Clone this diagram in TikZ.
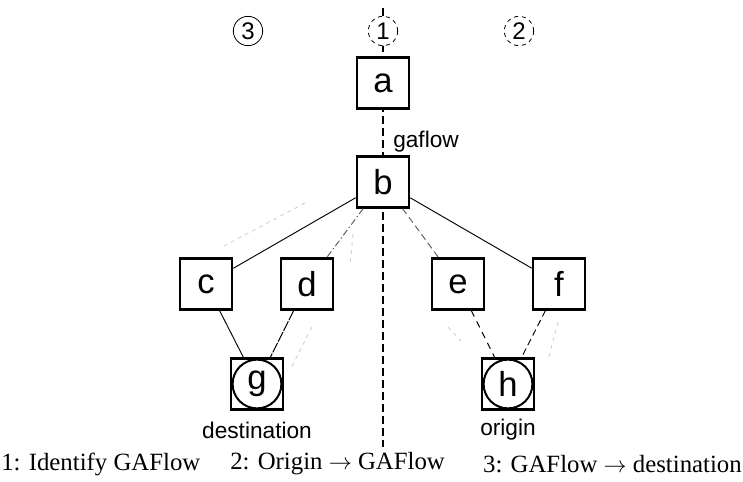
\documentclass[tikz,border=0pt]{standalone}
\usepackage{fontspec}
\setmainfont{Liberation Serif}
\newfontfamily\arialfont{Liberation Sans}
\tikzset{
  vbox/.style={draw, line width=1.9pt, fill=white, minimum width=39pt, minimum height=38pt,
    inner sep=0pt, font=\arialfont\fontsize{26}{28}\selectfont},
  endbox/.style={vbox, path picture={\draw[line width=1.5pt] (path picture bounding box.center) circle[radius=18.3pt];}},
  stepmark/.style={draw, circle, line width=0.6pt, fill=white, minimum size=22pt, inner sep=0pt,
    font=\arialfont\fontsize{18}{20}\selectfont},
  annot/.style={font=\arialfont\fontsize{17}{19}\selectfont, inner sep=0pt},
  thinedge/.style={line width=0.7pt},
  faint/.style={gray!40, line width=0.6pt, dash pattern=on 3pt off 3pt},
  divider/.style={line width=2.2pt, dash pattern=on 6pt off 3pt},
  caption/.style={font=\fontsize{18.6}{22}\selectfont, inner sep=0pt}
}
\begin{document}
\begin{tikzpicture}[x=0.75pt, y=-0.75pt]
\useasboundingbox (0,0) rectangle (743,482);

% dividing line of the tree
\coordinate (top) at (383,8);
\coordinate (bot) at (383,447);
\draw[divider] (top) -- (bot);

% step markers
\node[stepmark] (s3) at (248,31) {3};
\node[stepmark, dashed] (s1) at (383,31) {1};
\node[stepmark, dashed] (s2) at (519,31) {2};

% tree nodes
\node[vbox] (a) at (383,83) {a};
\node[vbox] (b) at (383,182) {b};
\node[vbox] (c) at (206,284) {c};
\node[vbox] (d) at (307,284) {d};
\node[vbox] (e) at (458,284) {e};
\node[vbox] (f) at (559,284) {f};
\node[endbox] (g) at (257,384) {g};
\node[endbox] (h) at (508,384) {h};

% edges
\draw[thinedge] (b) -- (c);
\draw[thinedge, gray!70!black, dash pattern=on 5pt off 2pt on 1pt off 2pt] (b) -- (d);
\draw[thinedge, gray!70!black, dash pattern=on 5pt off 3pt] (b) -- (e);
\draw[thinedge] (b) -- (f);
\draw[thinedge] (c) -- (g);
\draw[thinedge, dash pattern=on 8pt off 1pt] (d) -- (g);
\draw[thinedge, dash pattern=on 5pt off 4pt] (e) -- (h);
\draw[thinedge, dash pattern=on 5pt off 3pt] (f) -- (h);

% faint traces of the flow routes
\draw[faint] (305,203) -- (222,247);
\draw[faint] (353,234) -- (350,266);
\draw[faint] (312,327) -- (290,370);
\draw[faint] (448,327) -- (461,341);
\draw[faint] (558,322) -- (548,360);

% labels
\node[annot, anchor=west] (gaflow) at (393,142) {gaflow};
\node[annot] (dest) at (257,430) {destination};
\node[annot] (orig) at (508,430) {origin};

% legend
\node[caption, anchor=west] (l1) at (1,464) {1: Identify GAFlow};
\node[caption, anchor=west] (l2) at (230,464) {2: Origin $\rightarrow$ GAFlow};
\node[caption, anchor=east] (l3) at (742,464) {3: GAFlow $\rightarrow$ destination};
\end{tikzpicture}
\end{document}
